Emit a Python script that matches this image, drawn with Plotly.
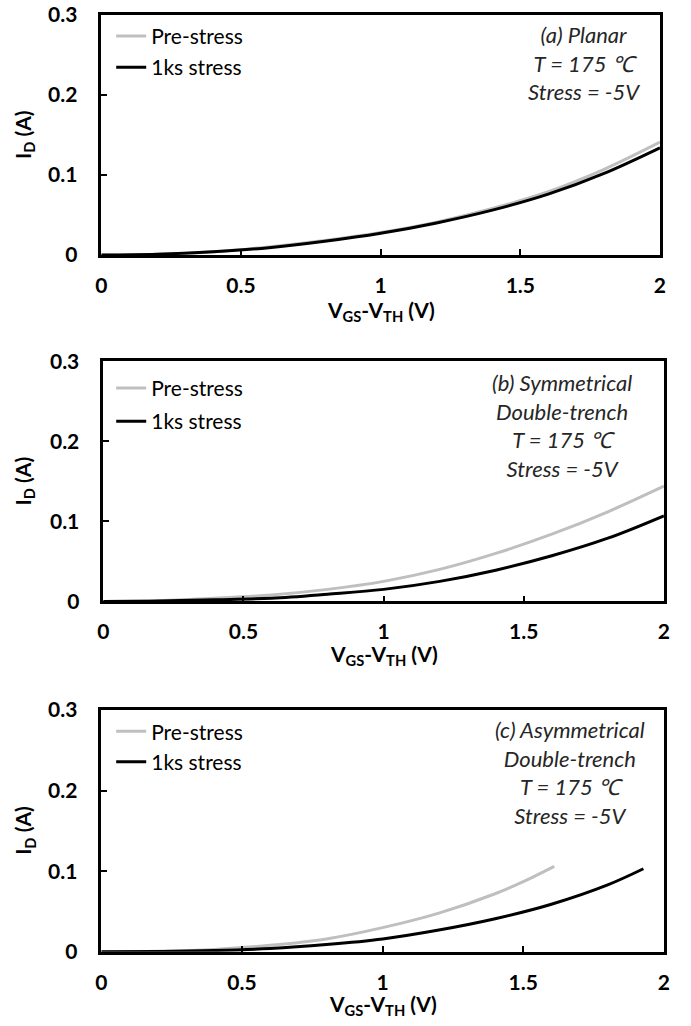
import plotly.graph_objects as go

W, H = 691, 1026

# ---- data ----
a_x = [0, 0.2, 0.4, 0.6, 0.8, 1.0, 1.2, 1.4, 1.6, 1.8, 2.0]
a_pre = [0, 0.001, 0.004, 0.010, 0.018, 0.028, 0.041, 0.058, 0.079, 0.107, 0.141]
a_post = [0, 0.001, 0.004, 0.009, 0.017, 0.027, 0.040, 0.056, 0.076, 0.102, 0.134]

b_x = [0, 0.2, 0.4, 0.6, 0.8, 1.0, 1.2, 1.4, 1.6, 1.8, 2.0]
b_pre = [0, 0.001, 0.004, 0.008, 0.015, 0.025, 0.040, 0.060, 0.084, 0.112, 0.144]
b_post = [0, 0.0005, 0.002, 0.004, 0.009, 0.015, 0.025, 0.039, 0.057, 0.079, 0.107]

c_pre_x = [0, 0.2, 0.4, 0.6, 0.8, 1.0, 1.2, 1.4, 1.5, 1.61]
c_pre = [0, 0.0008, 0.003, 0.008, 0.016, 0.030, 0.048, 0.072, 0.087, 0.106]
c_post_x = [0, 0.2, 0.4, 0.6, 0.8, 1.0, 1.2, 1.4, 1.6, 1.8, 1.927]
c_post = [0, 0.0003, 0.0015, 0.004, 0.009, 0.016, 0.027, 0.041, 0.059, 0.083, 0.103]

series_names = ["Pre-stress", "1ks stress"]
x_ticks = [0, 0.5, 1, 1.5, 2]
x_tick_labels = ["0", "0.5", "1", "1.5", "2"]
y_ticks = [0, 0.1, 0.2, 0.3]
y_tick_labels = ["0", "0.1", "0.2", "0.3"]
panel_labels = [
    "<i>(a) Planar</i><br><i>T = 175 ℃</i><br><i>Stress = -5V</i>",
    "<i>(b) Symmetrical</i><br><i>Double-trench</i><br><i>T = 175 ℃</i><br><i>Stress = -5V</i>",
    "<i>(c) Asymmetrical</i><br><i>Double-trench</i><br><i>T = 175 ℃</i><br><i>Stress = -5V</i>",
]

GRAY = "#BFBFBF"
BLACK = "#000000"
FONT = "Lato, 'Open Sans', sans-serif"


# map desired on-screen pixel -> paper fraction (compensates viewer scaling)
def px(x):
    return ((x - 1.8) / 0.992) / W


def py(y):
    return 1 - (500 + (y - 500) / 0.98) / H


# ---- on-screen pixel layout ----
panels = [
    dict(x0=98, x1=662, top=11, bottom=252, title_off=56),
    dict(x0=100, x1=666, top=359, bottom=600, title_off=54),
    dict(x0=98, x1=666, top=709, bottom=952, title_off=53),
]
legend_mid = [48, 402.5, 746]
legend_gaps = [1, 3, 0]
label_pos = [(585, 59.5), (563, 423), (571, 772)]

fig = go.Figure()

data = [
    (a_x, a_pre, a_x, a_post),
    (b_x, b_pre, b_x, b_post),
    (c_pre_x, c_pre, c_post_x, c_post),
]

for i, (gx, gy, kx, ky) in enumerate(data):
    n = "" if i == 0 else str(i + 1)
    leg = "legend" if i == 0 else f"legend{i+1}"
    fig.add_trace(go.Scatter(x=gx, y=gy, mode="lines", name=series_names[0],
                             line=dict(color=GRAY, width=3, shape="spline"),
                             xaxis="x" + n, yaxis="y" + n, legend=leg,
                             legendgroup=f"g{i}a"))
    fig.add_trace(go.Scatter(x=kx, y=ky, mode="lines", name=series_names[1],
                             line=dict(color=BLACK, width=3, shape="spline"),
                             xaxis="x" + n, yaxis="y" + n, legend=leg,
                             legendgroup=f"g{i}b"))

layout = dict(
    width=W, height=H,
    margin=dict(l=0, r=0, t=0, b=0),
    paper_bgcolor="white", plot_bgcolor="white",
    font=dict(family=FONT, color="black"),
    showlegend=True,
)

annotations = []

for i, p in enumerate(panels):
    n = "" if i == 0 else str(i + 1)
    xd = [px(p["x0"]), px(p["x1"])]
    yd = [py(p["bottom"]), py(p["top"])]
    axis_common = dict(
        showline=True, mirror=True, linecolor="black", linewidth=2.5,
        showgrid=False, zeroline=False, ticks="inside", ticklen=6,
        tickwidth=2, tickcolor="black",
        tickfont=dict(family=FONT, size=21, color="black", weight="bold"),
    )
    layout["xaxis" + n] = dict(axis_common, domain=xd, range=[0, 2],
                               anchor="y" + n, tickvals=x_ticks,
                               ticktext=x_tick_labels, ticklabelstandoff=10)
    layout["yaxis" + n] = dict(axis_common, domain=yd, range=[0, 0.3],
                               anchor="x" + n, tickvals=y_ticks,
                               ticktext=y_tick_labels, ticklabelstandoff=17)
    leg = "legend" if i == 0 else f"legend{i+1}"
    layout[leg] = dict(
        x=px(108), y=py(legend_mid[i]), xanchor="left", yanchor="middle",
        bgcolor="rgba(0,0,0,0)", borderwidth=0,
        font=dict(family=FONT, size=21, color="black"),
        itemwidth=30, tracegroupgap=legend_gaps[i], traceorder="grouped",
    )
    # axis titles
    annotations.append(dict(
        text="<b>V<sub>GS</sub>-V<sub>TH</sub> (V)</b>", xref="paper", yref="paper",
        x=px((p["x0"] + p["x1"]) / 2), y=py(p["bottom"] + p["title_off"]),
        showarrow=False, xanchor="center", yanchor="middle",
        font=dict(family=FONT, size=21, color="black")))
    annotations.append(dict(
        text="<b>I<sub>D</sub> (A)</b>", xref="paper", yref="paper",
        x=px(20), y=py((p["top"] + p["bottom"]) / 2), textangle=-90,
        showarrow=False, xanchor="center", yanchor="middle",
        font=dict(family=FONT, size=21, color="black")))
    lx, ly = label_pos[i]
    annotations.append(dict(
        text=panel_labels[i], xref="paper", yref="paper",
        x=px(lx), y=py(ly), showarrow=False, xanchor="center",
        yanchor="middle", align="center",
        font=dict(family=FONT, size=22, color="#262626")))

layout["annotations"] = annotations
fig.update_layout(**layout)
fig.write_html("out.html")
